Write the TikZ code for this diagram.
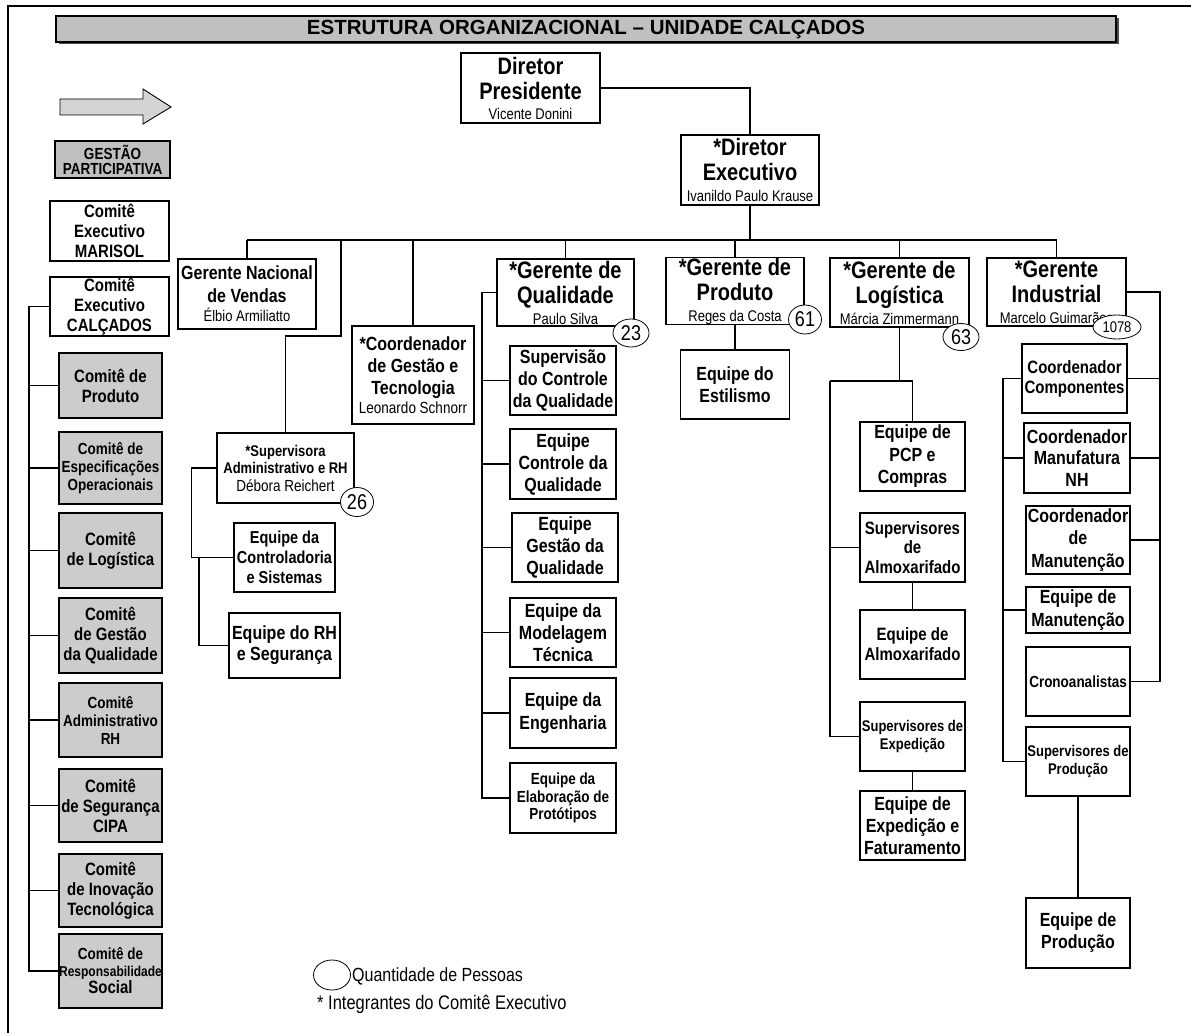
\documentclass[tikz,border=0pt]{standalone}
\usepackage{fontspec}
\setmainfont{Liberation Sans}
\newfontfamily\cond{Liberation Sans}[FakeStretch=0.84]
\usetikzlibrary{shapes.geometric}

\definecolor{bargray}{HTML}{C0C0C0}
\definecolor{boxgray}{HTML}{CCCCCC}
\definecolor{arrowgray}{HTML}{D4D4D4}

% size given as the width-equivalent size of the plain face; the narrow face is set taller
\newcommand\setfs[2]{\fontsize{\fpeval{round(#1/0.84,2)}}{#2}\selectfont}
\newcommand\nmfont{\setfs{13}{15}\mdseries}

\pgfdeclarelayer{bg}
\pgfsetlayers{bg,main}

\tikzset{
  box/.style={draw, line width=1.1pt, fill=white, inner sep=0pt, align=center},
  gbox/.style={box, fill=boxgray},
  fsz/.style 2 args={font=\cond\bfseries\setfs{#1}{#2}},
  wh/.style 2 args={minimum width=#1pt, minimum height=#2pt},
  wire/.style={line width=1.1pt},
  spine/.style={line width=1.8pt},
  cnt/.style={ellipse, draw, line width=0.8pt, fill=white, inner sep=0pt,
              font=\cond\setfs{18}{18}},
}

\begin{document}
\begin{tikzpicture}[x=1pt, y=-1pt]
\useasboundingbox (0,0) rectangle (1191,1035);

% page frame
\draw[line width=1.4pt] (1191,6) -- (8,6) -- (8,1033);

% title bar with shadow
\fill[black!70] (58.5,18.5) rectangle (1118.5,44.5);
\node[draw, line width=1.1pt, fill=bargray, wh={1060}{26}, inner sep=0pt,
      font=\bfseries\fontsize{20.5}{24}\selectfont]
  (title) at (586,29) {ESTRUTURA ORGANIZACIONAL – UNIDADE CALÇADOS};

% block arrow
\draw[line width=0.9pt, fill=arrowgray]
  (60,99) -- (143,99) -- (143,89) -- (171,107) -- (143,124) -- (143,115) -- (60,115) -- cycle;

% left column: committees
\node[gbox, fill=bargray, wh={115}{37}, fsz={13.5}{15}] (gest) at (112.5,159.5) {GESTÃO\\PARTICIPATIVA};
\node[box, wh={119}{60}, fsz={15}{20}] (cmar) at (109.5,231) {Comitê\\Executivo\\MARISOL};
\node[box, wh={119}{59}, fsz={15}{20}] (ccal) at (109.5,306.5) {Comitê\\Executivo\\CALÇADOS};

\node[gbox, wh={103}{65}, fsz={15}{20}] (c1) at (110.5,385.5) {Comitê de\\Produto};
\node[gbox, wh={103}{72}, fsz={13.5}{18}] (c2) at (110.5,468) {Comitê de\\Especificações\\Operacionais};
\node[gbox, wh={103}{75}, fsz={15}{20}] (c3) at (110.5,550.5) {Comitê\\de Logística};
\node[gbox, wh={103}{75}, fsz={15}{20}] (c4) at (110.5,635.5) {Comitê\\de Gestão\\da Qualidade};
\node[gbox, wh={103}{74}, fsz={13.5}{18}] (c5) at (110.5,720) {Comitê\\Administrativo\\RH};
\node[gbox, wh={103}{73}, fsz={15}{20}] (c6) at (110.5,805.5) {Comitê\\de Segurança\\CIPA};
\node[gbox, wh={103}{73}, fsz={15}{20}] (c7) at (110.5,890.5) {Comitê\\de Inovação\\Tecnológica};
\node[gbox, wh={103}{74}, fsz={13.5}{17}] (c8) at (110.5,971)
  {Comitê de\\\setfs{12}{17}Responsabilidade\\\setfs{15}{17}Social};

% top management
\node[box, wh={139}{70}, fsz={20}{25}] (pres) at (530.5,88) {Diretor\\Presidente\\[-5pt]\nmfont Vicente Donini};
\node[box, wh={138}{70}, fsz={20}{25}] (exec) at (750,170) {*Diretor\\Executivo\\[-4pt]\nmfont Ivanildo Paulo Krause};

% sales branch
\node[box, wh={138}{70}, fsz={16}{23}] (gnv) at (247,294) {Gerente Nacional\\de Vendas\\[-4pt]\nmfont Élbio Armiliatto};
\node[box, wh={137}{70}, fsz={13}{17.5}] (sup) at (285.5,468)
  {*Supervisora\\Administrativo e RH\\\setfs{13.5}{17}\mdseries Débora Reichert};
\node[box, wh={101}{69}, fsz={14.5}{20}] (ctrl) at (284.5,557.5) {Equipe da\\Controladoria\\e Sistemas};
\node[box, wh={111}{65}, fsz={16}{21}] (rh) at (284.5,645.5) {Equipe do RH\\e Segurança};

% management and technology
\node[box, wh={122}{98}, fsz={16}{22}] (coord) at (413,375)
  {*Coordenador\\de Gestão e\\Tecnologia\\[-3pt]\setfs{13.5}{16}\mdseries Leonardo Schnorr};

% quality branch
\node[box, wh={137}{67}, fsz={20}{25}] (gq) at (565.5,292.5) {*Gerente de\\Qualidade\\[-4pt]\nmfont Paulo Silva};
\node[box, wh={106}{69}, fsz={16}{22}] (q1) at (563,380.5) {Supervisão\\do Controle\\da Qualidade};
\node[box, wh={106}{70}, fsz={16}{22}] (q2) at (563,464) {Equipe\\Controle da\\Qualidade};
\node[box, wh={106}{69}, fsz={16}{22}] (q3) at (565,547.5) {Equipe\\Gestão da\\Qualidade};
\node[box, wh={106}{69}, fsz={16}{22}] (q4) at (563,632.5) {Equipe da\\Modelagem\\Técnica};
\node[box, wh={106}{70}, fsz={16}{23}] (q5) at (563,713) {Equipe da\\Engenharia};
\node[box, wh={106}{70}, fsz={13.5}{17.5}] (q6) at (563,798) {Equipe da\\Elaboração de\\Protótipos};

% product branch
\node[box, wh={138}{66}, fsz={20}{25}] (gp) at (735,291) {*Gerente de\\Produto\\[-4pt]\nmfont Reges da Costa};
\node[box, wh={109}{69}, fsz={16}{22}] (est) at (735,384.5) {Equipe do\\Estilismo};

% logistics branch
\node[box, wh={139}{69}, fsz={20}{25}] (gl) at (899.5,292.5) {*Gerente de\\Logística\\[-4pt]\nmfont Márcia Zimmermann};
\node[box, wh={105}{69}, fsz={16}{22.5}] (pcp) at (912.5,456.5) {Equipe de\\PCP e\\Compras};
\node[box, wh={105}{69}, fsz={15}{19.5}] (salm) at (912.5,547.5) {Supervisores\\de\\Almoxarifado};
\node[box, wh={105}{69}, fsz={15}{20}] (ealm) at (912.5,644.5) {Equipe de\\Almoxarifado};
\node[box, wh={105}{69}, fsz={13}{18}] (exp) at (912.5,736.5) {Supervisores de\\Expedição};
\node[box, wh={105}{69}, fsz={16}{22}] (eef) at (912.5,825.5) {Equipe de\\Expedição e\\Faturamento};

% industrial branch
\node[box, wh={139}{68}, fsz={20}{25}] (gi) at (1056.5,292) {*Gerente\\Industrial\\[-4pt]\nmfont Marcelo Guimarães};
\node[box, wh={105}{69}, fsz={15}{20}] (comp) at (1074.5,378.5) {Coordenador\\Componentes};
\node[box, wh={106}{70}, fsz={16}{21.5}] (manf) at (1077,458) {Coordenador\\Manufatura\\NH};
\node[box, wh={104}{68}, fsz={16}{22.5}] (cman) at (1078,540) {Coordenador\\de\\Manutenção};
\node[box, wh={104}{46}, fsz={16}{23}] (eman) at (1078,610) {Equipe de\\Manutenção};
\node[box, wh={104}{69}, fsz={13.5}{16}] (cro) at (1078,681.5) {Cronoanalistas};
\node[box, wh={104}{69}, fsz={13}{18}] (sprod) at (1078,761.5) {Supervisores de\\Produção};
\node[box, wh={104}{70}, fsz={16}{22}] (eprod) at (1078,933) {Equipe de\\Produção};

% head counts
\node[cnt, wh={33}{29}] (n26) at (357,502) {26};
\node[cnt, wh={36}{28}] (n23) at (631,333) {23};
\node[cnt, wh={33}{29}] (n61) at (805,319.5) {61};
\node[cnt, wh={36}{27}] (n63) at (961,337) {63};
\node[cnt, wh={48}{24}, font=\cond\setfs{13}{13}] (n1078) at (1117,327) {1078};

% legend
\node[cnt, wh={37}{30}] (leg) at (332,975) {};
\node[anchor=west, inner sep=0pt, font=\cond\setfs{16}{16}] (legq) at (352,976) {Quantidade de Pessoas};
\node[anchor=west, inner sep=0pt, font=\cond\setfs{16.5}{16}] (legi) at (317,1004) {* Integrantes do Comitê Executivo};

% junction points
\coordinate (busL) at (247,240);
\coordinate (busR) at (1056.5,240);
\coordinate (j1) at (341,240);
\coordinate (k1) at (341,336);
\coordinate (sj) at (199,0);
\coordinate (qsp) at (482,0);
\coordinate (lbar) at (830,381);
\coordinate (rsp) at (1160,0);
\coordinate (lsp) at (1003,0);
\coordinate (csp) at (29,0);

\begin{pgfonlayer}{bg}
  % executive level
  \draw[wire] (pres.east) -| (exec.north);
  \draw[spine] (exec.south) -- (exec.south |- busL);
  \draw[wire] (busL) -- (busR);
  \foreach \n in {gnv,coord,gq,gp,gl,gi}
    \draw[wire] (\n.north) -- (\n.north |- busL);

  % administration and HR
  \draw[wire] (j1) -- (k1) -| (sup.north);
  \draw[wire] (sup.west) -- ++(-25,0) |- (ctrl.west);
  \draw[wire] (ctrl.west -| sj) |- (rh.west);

  % quality
  \draw[spine] (gq.west) -| (qsp |- q6.west) -- (q6.west);
  \foreach \n in {q1,q2,q3,q4,q5}
    \draw[wire] (\n.west) -- (\n.west -| qsp);

  % product
  \draw[wire] (gp.south) -- (est.north);

  % logistics
  \draw[wire] (gl.south) -- (gl.south |- lbar);
  \draw[wire] (lbar) -- (pcp.north |- lbar) -- (pcp.north);
  \draw[wire] (lbar) |- (exp.west);
  \draw[wire] (salm.west) -- (salm.west -| lbar);
  \draw[wire] (salm.south) -- (ealm.north);
  \draw[wire] (exp.south) -- (eef.north);

  % industrial
  \draw[spine] (gi.east) -| (rsp |- cro.east) -- (cro.east);
  \foreach \n in {comp,manf,cman}
    \draw[wire] (\n.east) -- (\n.east -| rsp);
  \draw[spine] (comp.west) -| (lsp |- sprod.west) -- (sprod.west);
  \foreach \n in {manf,eman}
    \draw[wire] (\n.west) -- (\n.west -| lsp);
  \draw[wire] (sprod.south) -- (eprod.north);

  % committees
  \draw[spine] (ccal.west) -| (csp |- c8.west) -- (c8.west);
  \foreach \n in {c1,c2,c3,c4,c5,c6,c7}
    \draw[wire] (\n.west) -- (\n.west -| csp);
\end{pgfonlayer}
\end{tikzpicture}
\end{document}
